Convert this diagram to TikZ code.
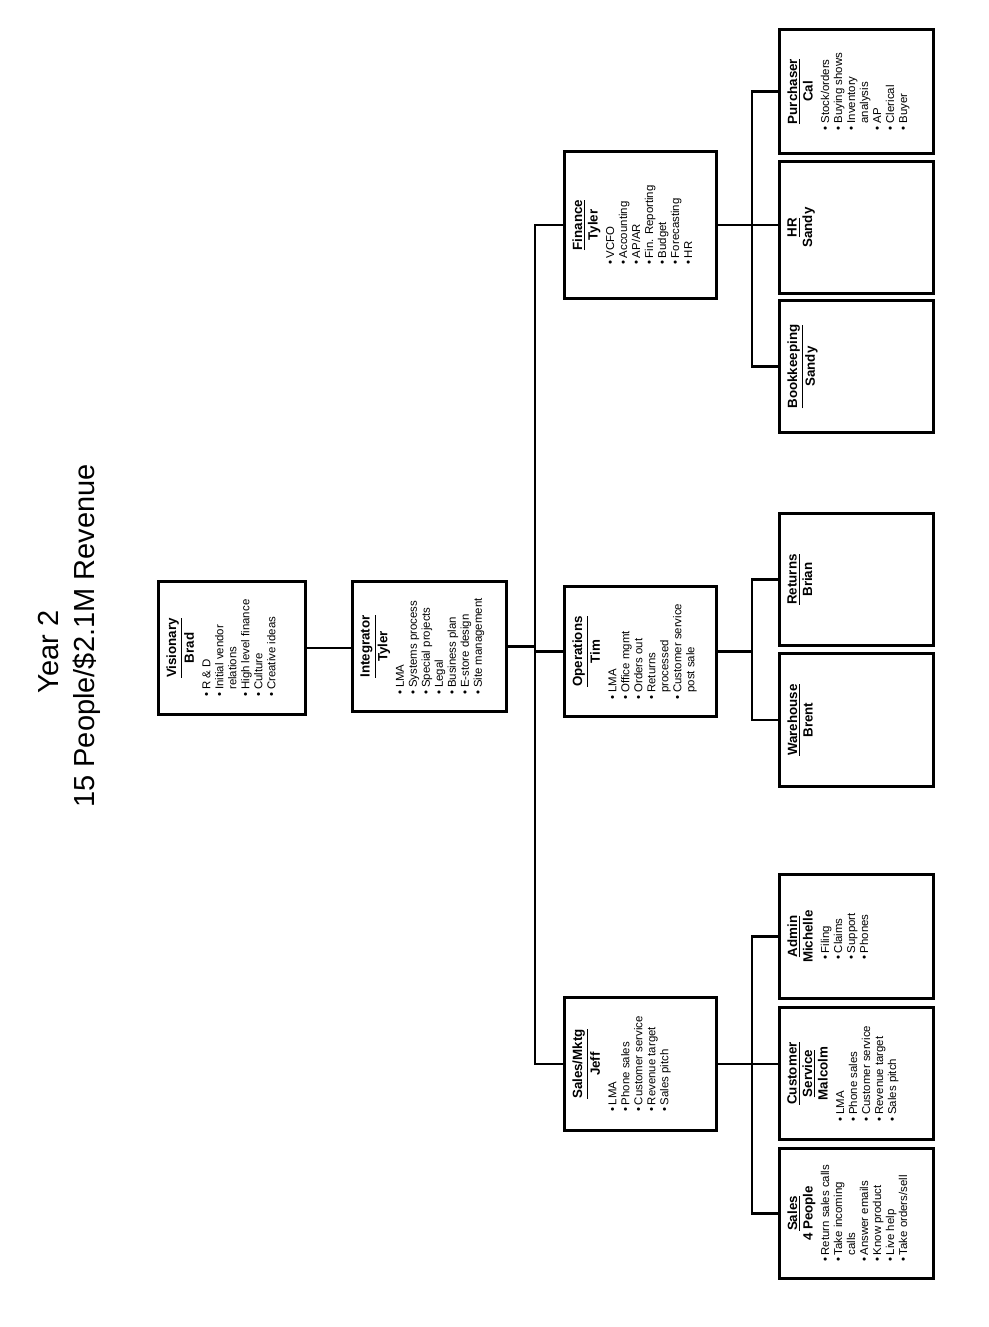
\documentclass[tikz,border=0pt]{standalone}
\usepackage{fontspec}
\setmainfont{Liberation Sans}

% box text: width/height given in px of the reference (1px = 0.02cm)
\newcommand{\orgtext}[3]{\parbox[c][\dimexpr0.02cm*#2\relax][t]{\dimexpr0.02cm*#1\relax}{\vspace*{4.5pt}\centering #3}}
\newcommand{\hd}[1]{{\fontsize{7.6}{8.8}\selectfont\bfseries #1\par}}
\newcommand{\items}[1]{\vspace{2pt}{\fontsize{6.5}{7.4}\selectfont\begin{tabular}[t]{@{}l@{}}#1\end{tabular}\par}}
\newcommand{\bu}{\textbullet\hspace{1.5pt}}
\newcommand{\cn}{\phantom{\textbullet\hspace{1.5pt}}}

\begin{document}
\begin{tikzpicture}[x=0.02cm, y=-0.02cm]
\tikzset{
    unit/.style={draw, line width=1.7pt, rotate=90, inner sep=0pt},
    link/.style={line width=1.4pt, line join=miter},
    ttl/.style={rotate=90, inner sep=0pt, font=\fontsize{16.5}{19.8}\selectfont},
}
\useasboundingbox (0,0) rectangle (989,1327);

% Title
\node[ttl] (title1) at (49,652) {Year 2};
\node[ttl] (title2) at (87,636) {15 People/\$2.1M Revenue};

%── Top level ──────────────────────────────────────────────────
\node[unit] (vis) at (232,648) {\orgtext{133}{147}{%
  \hd{\underline{Visionary}\\Brad}
  \items{\bu R \& D\\ \bu Initial vendor\\ \cn relations\\ \bu High level finance\\ \bu Culture\\ \bu Creative ideas}}};
\node[unit] (intg) at (429.5,646.5) {\orgtext{130}{154}{%
  \hd{\underline{Integrator}\\Tyler}
  \items{\bu LMA\\ \bu Systems process\\ \bu Special projects\\ \bu Legal\\ \bu Business plan\\ \bu E-store design\\ \bu Site management}}};

%── Departments ────────────────────────────────────────────────
\node[unit] (fin) at (640.5,225) {\orgtext{147}{152}{%
  \hd{\underline{Finance}\\Tyler}
  \items{\bu VCFO\\ \bu Accounting\\ \bu AP/AR\\ \bu Fin. Reporting\\ \bu Budget\\ \bu Forecasting\\ \bu HR}}};
\node[unit] (ops) at (640.5,651.5) {\orgtext{130}{152}{%
  \hd{\underline{Operations}\\Tim}
  \items{\bu LMA\\ \bu Office mgmt\\ \bu Orders out\\ \bu Returns\\ \cn processed\\ \bu Customer service\\ \cn post sale}}};
\node[unit] (sal) at (640.5,1064) {\orgtext{133}{152}{%
  \hd{\underline{Sales/Mktg}\\Jeff}
  \items{\bu LMA\\ \bu Phone sales\\ \bu Customer service\\ \bu Revenue target\\ \bu Sales pitch}}};

%── Finance staff ──────────────────────────────────────────────
\node[unit] (pur) at (856.5,91.5) {\orgtext{124}{154}{%
  \hd{\underline{Purchaser}\\Cal}
  \items{\bu Stock/orders\\ \bu Buying shows\\ \bu Inventory\\ \cn analysis\\ \bu AP\\ \bu Clerical\\ \bu Buyer}}};
\node[unit] (hr) at (856.5,227.5) {\orgtext{132}{154}{\hd{\underline{HR}\\Sandy}}};
\node[unit] (bk) at (856.5,366.5) {\orgtext{132}{154}{\hd{\underline{Bookkeeping}\\Sandy}}};

%── Operations staff ───────────────────────────────────────────
\node[unit] (ret) at (856.5,579.5) {\orgtext{132}{154}{\hd{\underline{Returns}\\Brian}}};
\node[unit] (wh) at (856.5,720) {\orgtext{133}{154}{\hd{\underline{Warehouse}\\Brent}}};

%── Sales staff ────────────────────────────────────────────────
\node[unit] (adm) at (856.5,936.5) {\orgtext{124}{154}{%
  \hd{\underline{Admin}\\Michelle}
  \items{\bu Filing\\ \bu Claims\\ \bu Support\\ \bu Phones}}};
\node[unit] (cs) at (856.5,1073.5) {\orgtext{132}{154}{%
  \hd{\underline{Customer}\\\underline{Service}\\Malcolm}
  \items{\bu LMA\\ \bu Phone sales\\ \bu Customer service\\ \bu Revenue target\\ \bu Sales pitch}}};
\node[unit] (s4) at (856.5,1213.5) {\orgtext{130}{154}{%
  \hd{\underline{Sales}\\4 People}
  \items{\bu Return sales calls\\ \bu Take incoming\\ \cn calls\\ \bu Answer emails\\ \bu Know product\\ \bu Live help\\ \bu Take orders/sell}}};

%── Connectors ─────────────────────────────────────────────────
\draw[link] (vis.south) -- (vis.south -| intg.north);
\draw[link] (intg.south) -- ++(27,0) coordinate (trunk);
\draw[link] (fin.north) -| (trunk |- sal.north) -- (sal.north);
\draw[link] (trunk |- ops.north) -- (ops.north);

\path (fin.south) ++(34,0) coordinate (fbus);
\draw[link] (fin.south) -- (fin.south -| hr.north);
\draw[link] (pur.north) -| (fbus |- bk.north) -- (bk.north);

\draw[link] (ops.south) -- ++(34,0) coordinate (obus);
\draw[link] (ret.north) -| (obus |- wh.north) -- (wh.north);

\path (sal.south) ++(34,0) coordinate (sbus);
\draw[link] (sal.south) -- (sal.south -| cs.north);
\draw[link] (adm.north) -| (sbus |- s4.north) -- (s4.north);

\end{tikzpicture}
\end{document}
